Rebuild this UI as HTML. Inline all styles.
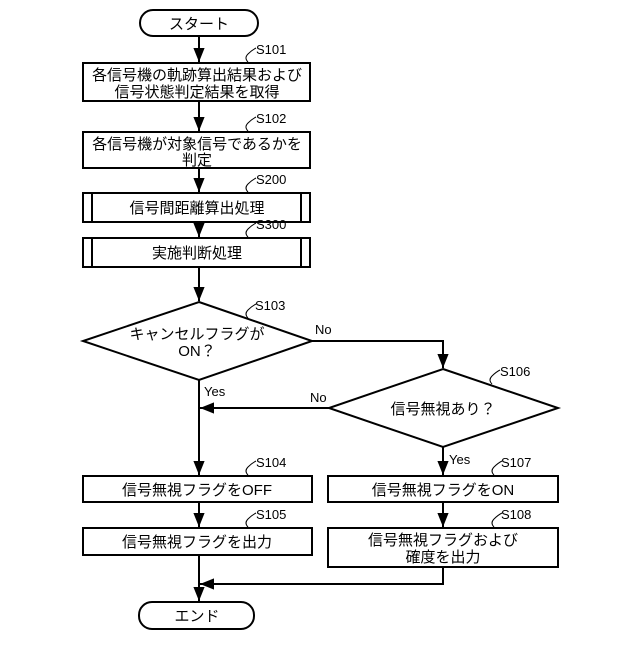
<!DOCTYPE html>
<html><head><meta charset="utf-8"><style>
body{margin:0;background:#fff}
svg text{font-family:"Liberation Sans","Noto Sans CJK JP",sans-serif;fill:#000}
</style></head><body>
<svg width="640" height="640" viewBox="0 0 640 640" xmlns="http://www.w3.org/2000/svg">
<defs><marker id="a" viewBox="0 0 10 10" refX="10" refY="5" markerWidth="7" markerHeight="7" orient="auto"><path d="M0,1 L10,5 L0,9 z" fill="#000"/></marker></defs>
<g stroke="#000" stroke-width="2" fill="none">
<rect x="140" y="10" width="118" height="26" rx="13"/>
<rect x="83" y="63" width="227" height="38"/>
<rect x="83" y="132" width="227" height="36"/>
<rect x="83" y="193" width="227" height="29"/>
<line x1="92" y1="193" x2="92" y2="222"/><line x1="301" y1="193" x2="301" y2="222"/>
<rect x="83" y="238" width="227" height="29"/>
<line x1="92" y1="238" x2="92" y2="267"/><line x1="301" y1="238" x2="301" y2="267"/>
<polygon points="199,302 312,341 199,380 83,341"/>
<polygon points="443,369 558,408 443,447 329,408"/>
<rect x="83" y="476" width="229" height="26"/>
<rect x="328" y="476" width="230" height="26"/>
<rect x="83" y="528" width="229" height="27"/>
<rect x="328" y="528" width="230" height="39"/>
<rect x="139" y="602" width="115" height="27" rx="13"/>
<line x1="199" y1="36" x2="199" y2="62" marker-end="url(#a)"/>
<line x1="199" y1="101" x2="199" y2="131" marker-end="url(#a)"/>
<line x1="199" y1="168" x2="199" y2="192" marker-end="url(#a)"/>
<line x1="199" y1="222" x2="199" y2="237" marker-end="url(#a)"/>
<line x1="199" y1="267" x2="199" y2="301" marker-end="url(#a)"/>
<polyline points="312,341 443,341 443,368" marker-end="url(#a)"/>
<line x1="329" y1="408" x2="200" y2="408" marker-end="url(#a)"/>
<line x1="199" y1="380" x2="199" y2="475" marker-end="url(#a)"/>
<line x1="443" y1="447" x2="443" y2="475" marker-end="url(#a)"/>
<line x1="199" y1="502" x2="199" y2="527" marker-end="url(#a)"/>
<line x1="443" y1="502" x2="443" y2="527" marker-end="url(#a)"/>
<polyline points="443,567 443,584 200,584" marker-end="url(#a)"/>
<line x1="199" y1="555" x2="199" y2="601" marker-end="url(#a)"/>
</g>
<g stroke="#000" stroke-width="1" fill="none">
<path d="M248,62 q-4,-4 0,-8 q4,-4 8,-6"/><path d="M248,131 q-4,-4 0,-8 q4,-4 8,-6"/>
<path d="M248,192 q-4,-4 0,-8 q4,-4 8,-6"/><path d="M248,237 q-4,-4 0,-8 q4,-4 8,-6"/>
<path d="M248,318 q-4,-4 0,-8 q4,-4 8,-6"/><path d="M492,384 q-4,-4 0,-8 q4,-4 8,-6"/>
<path d="M248,475 q-4,-4 0,-8 q4,-4 8,-6"/><path d="M494,475 q-4,-4 0,-8 q4,-4 8,-6"/>
<path d="M248,527 q-4,-4 0,-8 q4,-4 8,-6"/><path d="M494,527 q-4,-4 0,-8 q4,-4 8,-6"/>
</g>
<g font-size="13">
<text x="256" y="54">S101</text><text x="256" y="123">S102</text><text x="256" y="184">S200</text>
<text x="256" y="229">S300</text><text x="255" y="310">S103</text><text x="500" y="376">S106</text>
<text x="256" y="467">S104</text><text x="501" y="467">S107</text><text x="256" y="519">S105</text><text x="501" y="519">S108</text>
<text x="315" y="334">No</text><text x="310" y="402">No</text><text x="204" y="396">Yes</text><text x="449" y="464">Yes</text>
</g>
<g font-size="15" text-anchor="middle">
<text x="199" y="29">スタート</text>
<text x="197" y="80">各信号機の軌跡算出結果および</text>
<text x="197" y="97">信号状態判定結果を取得</text>
<text x="197" y="149">各信号機が対象信号であるかを</text>
<text x="197" y="165">判定</text>
<text x="197" y="213">信号間距離算出処理</text>
<text x="197" y="258">実施判断処理</text>
<text x="197" y="339">キャンセルフラグが</text>
<text x="197" y="356">ON？</text>
<text x="443" y="414">信号無視あり？</text>
<text x="197" y="495">信号無視フラグをOFF</text>
<text x="443" y="495">信号無視フラグをON</text>
<text x="197" y="547">信号無視フラグを出力</text>
<text x="443" y="545">信号無視フラグおよび</text>
<text x="443" y="562">確度を出力</text>
<text x="197" y="621">エンド</text>
</g>
</svg>
</body></html>
